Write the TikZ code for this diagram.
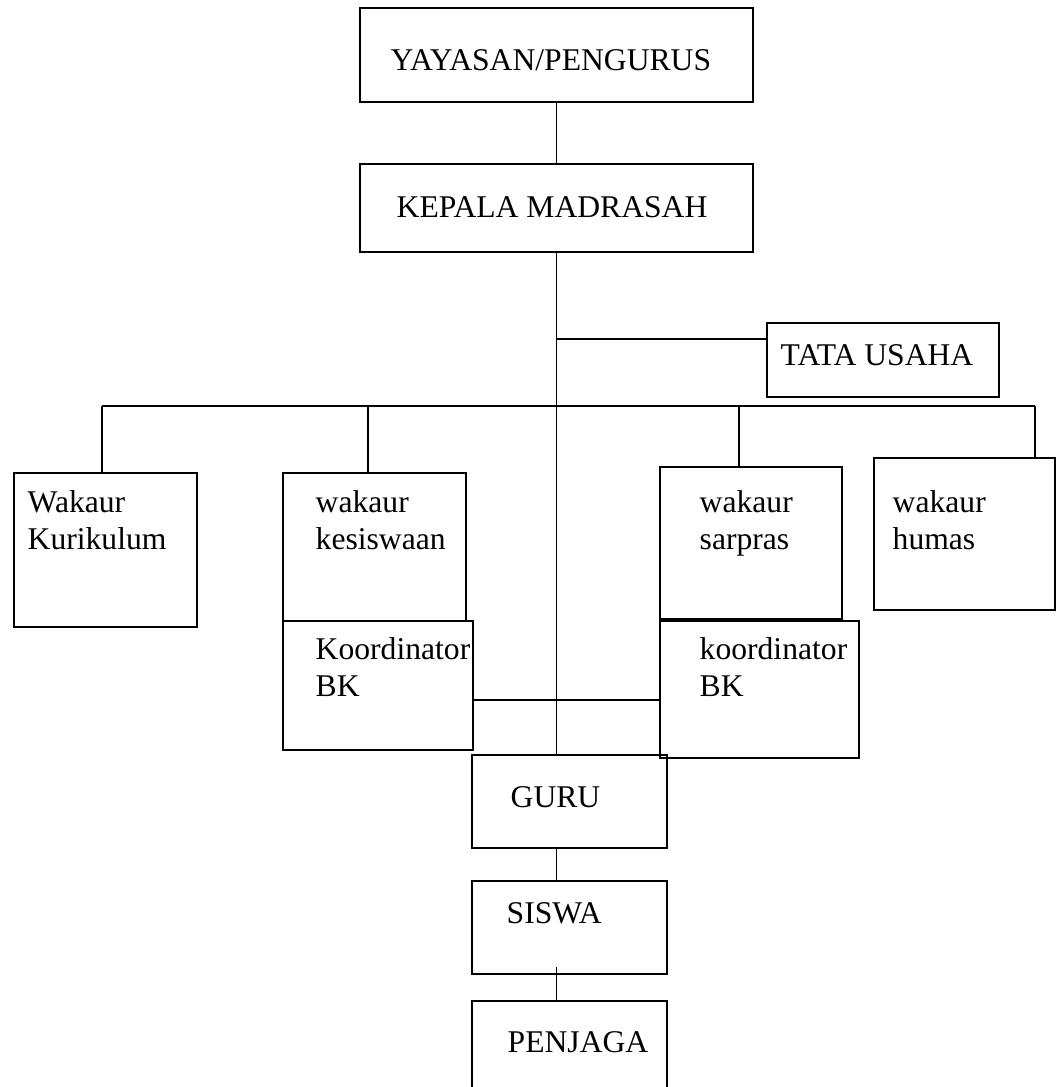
\documentclass[tikz,border=0pt]{standalone}
\usepackage{fontspec}
\setmainfont{Liberation Serif}
\usetikzlibrary{positioning,calc}

\begin{document}
\begin{tikzpicture}[x=0.02cm, y=-0.02cm, line width=0.8pt]
  \tikzset{BoxStyle/.style = {shape        = rectangle,
                              draw         = black,
                              inner sep    = 0pt,
                              outer sep    = 0pt,
                              anchor       = north west},
           TextStyle/.style = {inner sep   = 0pt,
                               anchor      = base west,
                               align       = left,
                               font        = \fontsize{18pt}{20.5pt}\selectfont}}
  \path[use as bounding box, clip] (0,0) rectangle (1056,1087);
  \begin{scope}
	%%% PIMPINAN %%%
	\node[BoxStyle, minimum width=7.86cm, minimum height=1.88cm] (yay) at (360,8) {};
	\node[BoxStyle, minimum width=7.86cm, minimum height=1.76cm] (kep) at (360,164) {};
	\node[BoxStyle, minimum width=4.64cm, minimum height=1.48cm] (tata) at (767,323) {};
	\node[TextStyle] (yayT) at (390,71) {YAYASAN/PENGURUS};
	\node[TextStyle] (kepT) at (396,218) {KEPALA MADRASAH};
	\node[TextStyle] (tataT) at (780,365) {TATA USAHA};
	%%% WAKAUR %%%
	\node[BoxStyle, minimum width=3.66cm, minimum height=3.08cm] (kur) at (14,473) {};
	\node[BoxStyle, minimum width=3.66cm, minimum height=2.96cm] (kes) at (283,473) {};
	\node[BoxStyle, minimum width=3.64cm, minimum height=3.04cm] (sar) at (660,467) {};
	\node[BoxStyle, minimum width=3.62cm, minimum height=3.04cm] (hum) at (874,458) {};
	\node[BoxStyle, minimum width=3.80cm, minimum height=2.58cm, below right=0cm and 0cm of kes.south west] (kbl) {};
	\node[BoxStyle, minimum width=3.98cm, minimum height=2.74cm, below right=0.04cm and 0cm of sar.south west] (kbr) {};
	% base = baseline of the last line
	\node[TextStyle] (kurT) at (27,549) {Wakaur\\Kurikulum};
	\node[TextStyle] (kesT) at (315,549) {wakaur\\kesiswaan};
	\node[TextStyle] (sarT) at (699,549) {wakaur\\sarpras};
	\node[TextStyle] (humT) at (892,549) {wakaur\\humas};
	\node[TextStyle] (kblT) at (315,696) {Koordinator\\BK};
	\node[TextStyle] (kbrT) at (699,696) {koordinator\\BK};
	%%% GURU SISWA PENJAGA %%%
	\node[BoxStyle, minimum width=3.90cm, minimum height=1.86cm] (guru) at (472,755) {};
	\node[BoxStyle, anchor=north, minimum width=3.90cm, minimum height=1.86cm, below=0.66cm of guru] (sis) {};
	\node[BoxStyle, anchor=north, minimum width=3.90cm, minimum height=2.10cm, below=0.54cm of sis] (pen) {};
	\node[TextStyle] (guruT) at (510,807) {GURU};
	\node[TextStyle] (sisT) at (506,923) {SISWA};
	\node[TextStyle] (penT) at (507,1052) {PENJAGA};
	%%% GARIS %%%
	\draw (yay) to (kep);
	\draw (kep.south) to (kep.south |- guru.north);
	\path (kep.south) ++(0,87) coordinate (tuJ);
	\draw (tuJ) to (tuJ -| tata.west);
	\coordinate (barL) at (102,406);
	\coordinate (barR) at (1035,406);
	\coordinate (dKes) at (368,406);
	\coordinate (dSar) at (739,406);
	\draw (barL) to (barR);
	\draw (barL) to (barL |- kur.north);
	\draw (dKes) to (dKes |- kes.north);
	\draw (dSar) to (dSar |- sar.north);
	\draw (barR) to (barR |- hum.north);
	\coordinate (bkJ) at (473,700);
	\draw (bkJ) to (bkJ -| kbr.west);
	\draw (guru.south -| kep.south) to (sis.north -| kep.south);
	\draw ($(sis.south -| kep.south)+(0,-7)$) to (pen.north -| kep.south);
  \end{scope}
\end{tikzpicture}
\end{document}
